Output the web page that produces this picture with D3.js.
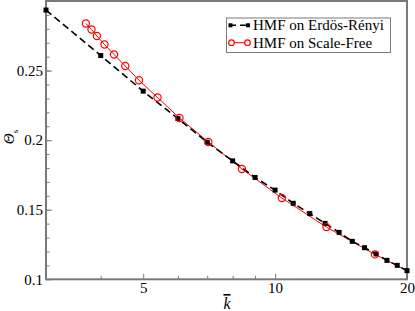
<!DOCTYPE html>
<html>
<head>
<meta charset="utf-8">
<script src="https://cdn.jsdelivr.net/npm/d3@7"></script>
<style>
  body { margin: 0; background: #fff; }
</style>
</head>
<body>
<div id="chart"></div>
<script>
// Erdos-Renyi series (black squares, dashed)
var erK = [3, 4, 5, 6, 7, 8, 9, 10, 11, 12, 13, 14, 15, 16, 17, 18, 19, 20];
var erTheta = [0.2935, 0.2608, 0.2352, 0.2155, 0.1985, 0.1851, 0.1732, 0.1641, 0.1546, 0.1472,
  0.1402, 0.1337, 0.1273, 0.1227, 0.1182, 0.1136, 0.1100, 0.1062];

// Scale-free series (red circles)
var sfK = [3.70, 3.81, 3.92, 4.08, 4.29, 4.55, 4.89, 5.39, 6.05, 7.04, 8.40, 10.36, 13.1, 16.9, 20];
var sfTheta = [0.2838, 0.2795, 0.2749, 0.2687, 0.2615, 0.2533, 0.2431, 0.2307, 0.2159, 0.1987,
  0.1793, 0.1584, 0.1375, 0.1179, 0.1062];

var xMajor = [5, 10, 20];
var xMinor = [4, 6, 7, 8, 9];
var yMajor = [0.1, 0.15, 0.2, 0.25];
var yMinor = d3.range(11, 30).map(function(d) { return d / 100; });

var seriesNames = ["HMF on Erdös-Rényi", "HMF on Scale-Free"];

var W = 415, H = 311;
var margin = { top: 1, right: 8, bottom: 31.7, left: 46 };
var serif = "'Liberation Serif', 'Times New Roman', Times, Tinos, 'Nimbus Roman', 'DejaVu Serif', serif";

var svg = d3.select("#chart").append("svg")
  .attr("width", W)
  .attr("height", H)
  .style("font-family", serif);

var x = d3.scaleLog()
  .domain([3, 20])
  .range([margin.left, W - margin.right]);

var y = d3.scaleLinear()
  .domain([0.1, 0.3])
  .range([H - margin.bottom, margin.top]);

var axisColor = "#7a7a7a";

// frame
svg.append("rect")
  .attr("x", x(3))
  .attr("y", y(0.3))
  .attr("width", x(20) - x(3))
  .attr("height", y(0.1) - y(0.3))
  .attr("fill", "none")
  .attr("stroke", axisColor)
  .attr("stroke-width", 2);

// axes, ticks inward
function styleAxis(g) {
  g.attr("font-family", null);
  g.select(".domain").remove();
  g.selectAll(".tick line").attr("stroke", axisColor).attr("stroke-width", 1);
  g.selectAll(".tick text").attr("fill", "#000")
    .style("font-family", serif)
    .style("font-size", "15px");
}

svg.append("g")
  .attr("transform", "translate(0," + y(0.1) + ")")
  .call(d3.axisBottom(x).tickValues(xMinor).tickFormat("").tickSizeInner(-3.5).tickSizeOuter(0))
  .call(styleAxis);

svg.append("g")
  .attr("transform", "translate(0," + y(0.1) + ")")
  .call(d3.axisBottom(x).tickValues(xMajor).tickFormat(d3.format("d")).tickSizeInner(-5.5).tickSizeOuter(0).tickPadding(3))
  .call(styleAxis);

svg.append("g")
  .attr("transform", "translate(" + x(3) + ",0)")
  .call(d3.axisLeft(y).tickValues(yMinor).tickFormat("").tickSizeInner(-3.5).tickSizeOuter(0))
  .call(styleAxis);

svg.append("g")
  .attr("transform", "translate(" + x(3) + ",0)")
  .call(d3.axisLeft(y).tickValues(yMajor).tickFormat(function(d) { return String(d); }).tickSizeInner(-6).tickSizeOuter(0).tickPadding(3))
  .call(styleAxis);

// axis titles
svg.append("text")
  .attr("x", 227)
  .attr("y", 309)
  .attr("text-anchor", "middle")
  .style("font-family", serif)
  .style("font-size", "16px")
  .style("font-style", "italic")
  .style("text-decoration", "overline")
  .text("k");

var yl = svg.append("text")
  .attr("transform", "translate(14," + 137 + ") rotate(-90)")
  .attr("text-anchor", "middle")
  .style("font-family", serif)
  .style("font-size", "15px");
yl.append("tspan").style("font-style", "italic").text("Θ");
yl.append("tspan").attr("dy", 4).style("font-size", "9px").text("s");

// lines
var line = d3.line()
  .x(function(d) { return x(d[0]); })
  .y(function(d) { return y(d[1]); });

var erData = erK.map(function(k, i) { return [k, erTheta[i]]; });
var sfData = sfK.map(function(k, i) { return [k, sfTheta[i]]; });

svg.append("path")
  .datum(sfData)
  .attr("d", line)
  .attr("fill", "none")
  .attr("stroke", "#ff0000")
  .attr("stroke-width", 1);

svg.append("path")
  .datum(erData)
  .attr("d", line)
  .attr("fill", "none")
  .attr("stroke", "#000")
  .attr("stroke-width", 1.6)
  .attr("stroke-dasharray", "7,4");

svg.selectAll(".er")
  .data(erData)
  .enter().append("rect")
  .attr("class", "er")
  .attr("x", function(d) { return x(d[0]) - 2.5; })
  .attr("y", function(d) { return y(d[1]) - 2.5; })
  .attr("width", 5)
  .attr("height", 5)
  .attr("fill", "#000");

// the last scale-free point sits under the Erdos-Renyi marker
svg.selectAll(".sf")
  .data(sfData.slice(0, -1))
  .enter().append("circle")
  .attr("class", "sf")
  .attr("cx", function(d) { return x(d[0]); })
  .attr("cy", function(d) { return y(d[1]); })
  .attr("r", 3.6)
  .attr("fill", "none")
  .attr("stroke", "#ff0000")
  .attr("stroke-width", 1.2);

// legend
var lg = svg.append("g");
lg.append("rect")
  .attr("x", 226.5)
  .attr("y", 18)
  .attr("width", 164)
  .attr("height", 34.5)
  .attr("fill", "#fff")
  .attr("stroke", axisColor)
  .attr("stroke-width", 1);

var rows = [25.3, 42.7];

lg.append("line")
  .attr("x1", 229).attr("x2", 249)
  .attr("y1", rows[0]).attr("y2", rows[0])
  .attr("stroke", "#000").attr("stroke-width", 1.6).attr("stroke-dasharray", "7,4");
[230.5, 248].forEach(function(px) {
  lg.append("rect").attr("x", px - 2).attr("y", rows[0] - 2).attr("width", 4).attr("height", 4).attr("fill", "#000");
});

lg.append("line")
  .attr("x1", 231).attr("x2", 248)
  .attr("y1", rows[1]).attr("y2", rows[1])
  .attr("stroke", "#ff0000").attr("stroke-width", 1);
[231.5, 247.5].forEach(function(px) {
  lg.append("circle").attr("cx", px).attr("cy", rows[1]).attr("r", 2.8)
    .attr("fill", "#fff").attr("stroke", "#ff0000").attr("stroke-width", 1.2);
});

seriesNames.forEach(function(name, i) {
  lg.append("text")
    .attr("x", 253)
    .attr("y", rows[i] + 4.8)
    .style("font-family", serif)
    .style("font-size", "15px")
    .text(name);
});
</script>
</body>
</html>
